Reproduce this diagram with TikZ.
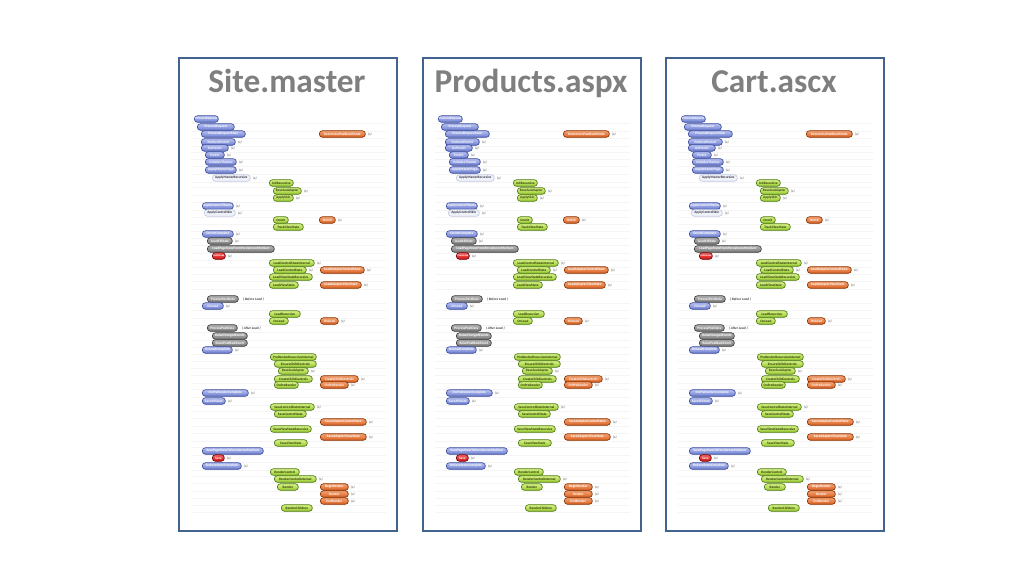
\documentclass[tikz,border=0pt]{standalone}
\usepackage{fontspec}
\usepackage{graphicx}
\setmainfont{Carlito}
\definecolor{framec}{HTML}{43638F}
\definecolor{titlec}{HTML}{7F7F7F}
\definecolor{blt}{HTML}{B8C2F2}\definecolor{blb}{HTML}{6C7DCE}\definecolor{bld}{HTML}{3A4A9A}
\definecolor{grt}{HTML}{D8F288}\definecolor{grb}{HTML}{98C830}\definecolor{grd}{HTML}{4C7A10}\definecolor{grx}{HTML}{2A3A00}
\definecolor{ort}{HTML}{F4A474}\definecolor{orb}{HTML}{D86020}\definecolor{ord}{HTML}{8A3000}
\definecolor{gyt}{HTML}{B4B4B4}\definecolor{gyb}{HTML}{7A7A7A}\definecolor{gyd}{HTML}{3A3A3A}
\definecolor{rdt}{HTML}{F46464}\definecolor{rdb}{HTML}{D01010}\definecolor{rdd}{HTML}{700000}
\definecolor{ltf}{HTML}{F0F2FA}\definecolor{ltd}{HTML}{C4CAE0}\definecolor{ltx}{HTML}{303040}
\newlength\fitlen
\newcommand\fitt[2]{\settowidth\fitlen{#2}\ifdim\fitlen>#1\relax\resizebox{#1}{!}{#2}\else#2\fi}
\tikzset{
  pillbase/.style={rectangle, rounded corners=2.3pt, minimum height=4.9pt, inner sep=0pt,
    line width=0.5pt, font=\bfseries\fontsize{2.6}{3}\selectfont, anchor=west},
  bl/.style={pillbase, draw=bld, top color=blt, bottom color=blb, text=white},
  gr/.style={pillbase, draw=grd, top color=grt, bottom color=grb, text=grx},
  or/.style={pillbase, draw=ord, top color=ort, bottom color=orb, text=white},
  gy/.style={pillbase, draw=gyd, top color=gyt, bottom color=gyb, text=white},
  rd/.style={pillbase, draw=rdd, top color=rdt, bottom color=rdb, text=white},
  lt/.style={pillbase, draw=ltd, fill=ltf, text=ltx},
  mark x/.style={font=\itshape\fontsize{2.6}{3}\selectfont, text=black!70, inner sep=0pt, anchor=west},
  note/.style={font=\bfseries\itshape\fontsize{2.6}{3}\selectfont, text=black!75, inner sep=0pt, anchor=west},
  panelframe/.style={draw=framec, line width=1.5pt, fill=white, minimum width=163.5pt, minimum height=354.75pt, inner sep=0pt},
  paneltitle/.style={font=\bfseries\fontsize{25}{29}\selectfont, text=titlec, inner sep=0pt, anchor=base},
  sepline/.style={draw=black!4, line width=0.4pt}
}
% #1 name, #2 style, #3 x1, #4 x2, #5 y, #6 text
\newcommand\Pl[6]{%
  \pgfmathsetmacro\pw{(#4-#3)*0.75}%
  \pgfmathsetmacro\tw{\pw-1.6}%
  \node[#2, minimum width=\pw pt] (#1) at (#3,#5) {\fitt{\tw pt}{#6}};}
\newcommand\Plx[6]{\Pl{#1}{#2}{#3}{#4}{#5}{#6}%
  \node[mark x] (#1-x) at ([xshift=1.6pt]#1.east) {(x)};}
\newcommand\panelbody[1]{%
  \node[panelframe] (frame) at (288,294.5) {};
  \node[paneltitle] (title) at (287,92) {#1};
  \foreach \yy in {119,127,134,142,148,155,162,170,178,183,191,198,206,213,220,227,234,241,249,256,263,270,277,285,299,306,314,321,328,336,343,350,357,364,371,379,385,393,401,407,414,422,429,437,443,451,458,466,472,479,487,494,501,508}
    \draw[sepline] (191,\yy+3.8) -- (386,\yy+3.8);
  \Pl{p1}{bl}{194}{218}{119}{ProcessRequest}
  \Pl{p2}{bl}{197}{234}{127}{ProcessRequest}
  \Pl{p3}{bl}{201}{245}{134}{ProcessRequestMain}
  \Plx{p3o}{or}{319}{365}{134}{DeterminePostBackMode}
  \Plx{p4}{bl}{201}{235}{142}{PerformPreInit}
  \Plx{p5}{bl}{201}{228}{148}{OnPreInit}
  \Plx{p6}{bl}{205}{224}{155}{PreInit}
  \Plx{p7}{bl}{205}{236}{162}{InitializeThemes}
  \Plx{p8}{bl}{205}{236}{170}{ApplyMasterPage}
  \Plx{p9}{lt}{212}{250}{178}{ApplyMasterRecursive}
  \Pl{p10}{gr}{269}{293}{183}{InitRecursive}
  \Plx{p11}{gr}{273}{301}{191}{ResolveAdapter}
  \Plx{p12}{gr}{273}{293}{198}{ApplySkin}
  \Plx{p13}{bl}{202}{233}{206}{ApplyControlTheme}
  \Plx{p14}{lt}{204}{235}{213}{ApplyControlSkin}
  \Pl{p15}{gr}{273}{288}{220}{OnInit}
  \Plx{p15o}{or}{319}{335}{220}{OnInit}
  \Pl{p16}{gr}{273}{303}{227}{TrackViewState}
  \Plx{p17}{bl}{202}{233}{234}{OnInitComplete}
  \Plx{p18}{gy}{207}{232}{241}{LoadAllState}
  \Pl{p19}{gy}{207}{274}{249}{LoadPageStateFromPersistenceMedium}
  \Plx{p20}{rd}{212}{225}{256}{OnPreLoad}
  \Plx{p21}{gr}{269}{314}{263}{LoadControlStateInternal}
  \Plx{p22}{gr}{273}{306}{270}{LoadControlState}
  \Plx{p22o}{or}{320}{364}{270}{LoadAdapterControlState}
  \Pl{p23}{gr}{269}{312}{277}{LoadViewStateRecursive}
  \Pl{p24}{gr}{269}{298}{285}{LoadViewState}
  \Plx{p24o}{or}{320}{361}{285}{LoadAdapterViewState}
  \Pl{p25}{gy}{207}{238}{299}{ProcessPostData}
  \node[note] (n25) at ([xshift=3pt]p25.east) {( Before Load )};
  \Plx{p26}{bl}{202}{223}{306}{OnLoad}
  \Pl{p27}{gr}{269}{300}{314}{LoadRecursive}
  \Pl{p28}{gr}{269}{288}{321}{OnLoad}
  \Plx{p28o}{or}{320}{338}{321}{OnLoad}
  \Pl{p29}{gy}{207}{237}{328}{ProcessPostData}
  \node[note] (n29) at ([xshift=3pt]p29.east) {( After Load )};
  \Pl{p30}{gy}{212}{247}{336}{RaiseChangedEvents}
  \Pl{p31}{gy}{212}{247}{343}{RaisePostBackEvent}
  \Plx{p32}{bl}{202}{232}{350}{OnLoadComplete}
  \Pl{p33}{gr}{270}{316}{357}{PreRenderRecursiveInternal}
  \Pl{p34}{gr}{274}{316}{364}{EnsureChildControls}
  \Plx{p35}{gr}{278}{308}{371}{ResolveAdapter}
  \Pl{p36}{gr}{274}{312}{379}{CreateChildControls}
  \Plx{p36o}{or}{320}{358}{379}{CreateChildControls}
  \Pl{p37}{gr}{274}{298}{385}{OnPreRender}
  \Plx{p37o}{or}{320}{348}{385}{OnPreRender}
  \Plx{p38}{bl}{202}{248}{393}{OnPreRenderComplete}
  \Plx{p39}{bl}{202}{225}{401}{SaveAllState}
  \Plx{p40}{gr}{270}{314}{407}{SaveControlStateInternal}
  \Pl{p41}{gr}{274}{306}{414}{SaveControlState}
  \Plx{p42}{or}{320}{366}{422}{SaveAdapterControlState}
  \Pl{p43}{gr}{270}{311}{429}{SaveViewStateRecursive}
  \Plx{p44}{or}{320}{366}{437}{SaveAdapterViewState}
  \Pl{p45}{gr}{274}{307}{443}{SaveViewState}
  \Pl{p46}{bl}{202}{263}{451}{SavePageStateToPersistenceMedium}
  \Plx{p47}{rd}{212}{224}{458}{Save}
  \Plx{p48}{bl}{202}{241}{466}{OnSaveStateComplete}
  \Pl{p49}{gr}{270}{299}{472}{RenderControl}
  \Plx{p50}{gr}{274}{316}{479}{RenderControlInternal}
  \Pl{p51}{gr}{277}{298}{487}{Render}
  \Plx{p51o}{or}{320}{348}{487}{BeginRender}
  \Plx{p52}{or}{320}{348}{494}{Render}
  \Plx{p53}{or}{320}{348}{501}{EndRender}
  \Pl{p54}{gr}{281}{312}{508}{RenderChildren}
}
\begin{document}
\begin{tikzpicture}[x=0.75pt,y=-0.75pt]
  \path[use as bounding box, fill=white] (0,0) rectangle (1024,576);
  \begin{scope}[name prefix=a-]
    \panelbody{Site.master}
  \end{scope}
  \begin{scope}[shift={(244,0)}, name prefix=b-]
    \panelbody{Products.aspx}
  \end{scope}
  \begin{scope}[shift={(487,0)}, name prefix=c-]
    \panelbody{Cart.ascx}
  \end{scope}
\end{tikzpicture}
\end{document}
